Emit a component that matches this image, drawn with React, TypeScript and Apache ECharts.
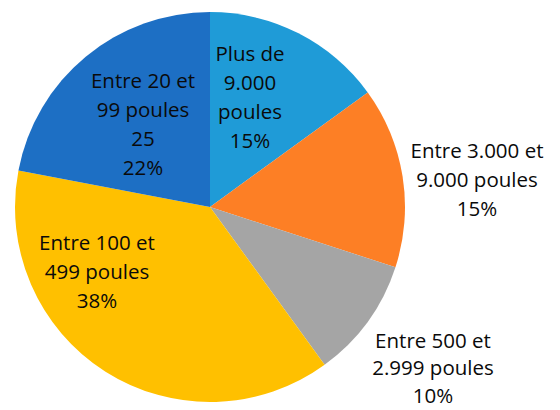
import React, { useEffect, useRef } from "react";
import * as echarts from "echarts";

const categories = [
  "Plus de\n9.000\npoules",
  "Entre 3.000 et\n9.000 poules",
  "Entre 500 et\n2.999 poules",
  "Entre 100 et\n499 poules",
  "Entre 20 et\n99 poules\n25",
];
const values = [15, 15, 10, 38, 22];
const colors = ["#1f9bd7", "#fd7f25", "#a5a5a5", "#ffc000", "#1d6fc4"];
const labelPositions: [number, number][] = [
  [250, 96],
  [477, 179],
  [433, 367],
  [97, 271],
  [143, 123],
];

export default function App() {
  const ref = useRef<HTMLDivElement>(null);
  useEffect(() => {
    document.body.style.margin = "0";
    const chart = echarts.init(ref.current!, null, { renderer: "svg" });
    chart.setOption({
      animation: false,
      backgroundColor: "#ffffff",
      series: [
        {
          type: "pie",
          center: [210, 207],
          radius: 195,
          startAngle: 90,
          clockwise: true,
          label: {
            show: true,
            position: "inside",
            color: "#0a0a0a",
            fontFamily: "'Open Sans', sans-serif",
            fontSize: 20.5,
            lineHeight: 29,
            align: "center",
            formatter: (p: any) => `${p.name}\n${Math.round(p.percent)}%`,
          },
          labelLine: { show: false },
          labelLayout: (p: any) => {
            const pos = labelPositions[p.dataIndex];
            return { x: pos[0], y: pos[1], align: "center", verticalAlign: "middle" };
          },
          itemStyle: { borderWidth: 0 },
          emphasis: { disabled: true },
          data: categories.map((c, i) => ({
            name: c,
            value: values[i],
            itemStyle: { color: colors[i] },
            label: i === 2 ? { lineHeight: 27.5 } : undefined,
          })),
        },
      ],
    });
    return () => chart.dispose();
  }, []);
  return <div ref={ref} style={{ width: 560, height: 410 }} />;
}
